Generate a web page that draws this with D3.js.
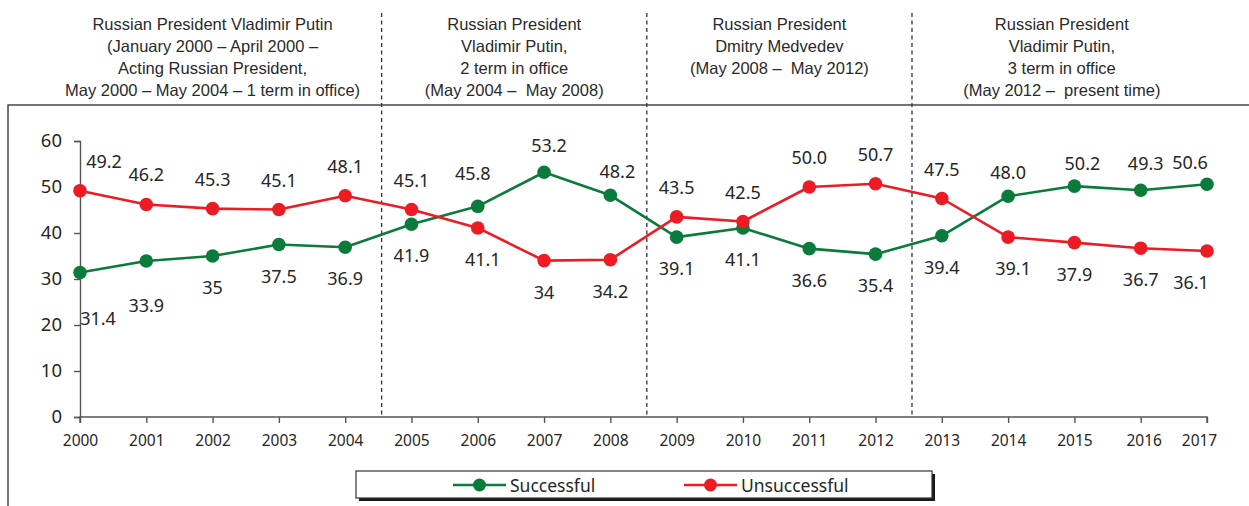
<!DOCTYPE html>
<html>
<head>
<meta charset="utf-8">
<script src="https://cdn.jsdelivr.net/npm/d3@7"></script>
<style>
  html, body { margin: 0; padding: 0; background: #fff; }
  svg { display: block; }
  .heads text { white-space: pre; }
</style>
</head>
<body>
<svg id="chart" width="1249" height="506"></svg>
<script>
// Survey results by year
const years = [2000, 2001, 2002, 2003, 2004, 2005, 2006, 2007, 2008,
               2009, 2010, 2011, 2012, 2013, 2014, 2015, 2016, 2017];
const successful   = [31.4, 33.9, 35, 37.5, 36.9, 41.9, 45.8, 53.2, 48.2,
                      39.1, 41.1, 36.6, 35.4, 39.4, 48.0, 50.2, 49.3, 50.6];
const unsuccessful = [49.2, 46.2, 45.3, 45.1, 48.1, 45.1, 41.1, 34, 34.2,
                      43.5, 42.5, 50.0, 50.7, 47.5, 39.1, 37.9, 36.7, 36.1];
// Value labels as printed
const successfulText   = ["31.4","33.9","35","37.5","36.9","41.9","45.8","53.2","48.2",
                          "39.1","41.1","36.6","35.4","39.4","48.0","50.2","49.3","50.6"];
const unsuccessfulText = ["49.2","46.2","45.3","45.1","48.1","45.1","41.1","34","34.2",
                          "43.5","42.5","50.0","50.7","47.5","39.1","37.9","36.7","36.1"];
const yTicks = [0, 10, 20, 30, 40, 50, 60];

// Presidential terms: boundaries on the year axis and heading lines
const termBounds = [1999.45, 2004.55, 2008.55, 2012.55, 2017.07];
const termTitles = [
  ["Russian President Vladimir Putin", "(January 2000 \u2013 April 2000 \u2013",
   "Acting Russian President,", "May 2000 \u2013 May 2004 \u2013 1 term in office)"],
  ["Russian President", "Vladimir Putin,", "2 term in office", "(May 2004 \u2013  May 2008)"],
  ["Russian President", "Dmitry Medvedev", "(May 2008 \u2013  May 2012)"],
  ["Russian President", "Vladimir Putin,", "3 term in office", "(May 2012 \u2013  present time)"]
];

const series = [
  { name: "Successful",   values: successful,   text: successfulText,   color: "#0a7b3b" },
  { name: "Unsuccessful", values: unsuccessful, text: unsuccessfulText, color: "#ed1c24" }
];

// Hand nudges for a few crowded value labels (pixels, by year index)
const labelNudge = {
  0:  { up: [24, 0], down: [18, 14] },
  1:  { down: [0, 13] },
  6:  { up: [-5, -3], down: [5, 0] },
  7:  { up: [5, 3] },
  8:  { up: [7, 6] },
  14: { up: [0, 6], down: [5, 0] },
  15: { up: [8, 7] },
  16: { up: [5, 3] },
  17: { up: [-17, 8], down: [-16, 0] }
};

const svg = d3.select("#chart");
const x = d3.scaleLinear().domain([2000, 2017]).range([80, 1207]);
const y = d3.scaleLinear().domain([0, 60]).range([417, 141]);

const ink = "#262626";

// Outer frame (open to the right and bottom)
svg.append("rect")
  .attr("x", 8).attr("y", 105)
  .attr("width", 1300).attr("height", 500)
  .attr("fill", "none").attr("stroke", "#3a3a3a").attr("stroke-width", 1.4);

// Term separators
svg.append("g").selectAll("line")
  .data(termBounds.slice(1, -1))
  .join("line")
  .attr("x1", d => x(d)).attr("x2", d => x(d))
  .attr("y1", 13).attr("y2", y(0))
  .attr("stroke", "#333").attr("stroke-width", 1.3)
  .attr("stroke-dasharray", "4,3.5");

// Term headings
const heads = svg.append("g").attr("class", "heads")
  .attr("font-family", "'Liberation Sans', Arial, sans-serif")
  .attr("font-size", 16.5).attr("fill", "#2a2a2a")
  .attr("text-anchor", "middle");
termTitles.forEach((lines, i) => {
  const cx = (x(termBounds[i]) + x(termBounds[i + 1])) / 2;
  heads.append("text")
    .selectAll("tspan")
    .data(lines)
    .join("tspan")
    .attr("x", cx)
    .attr("y", (d, j) => 30 + j * 22)
    .text(d => d);
});

// Y axis
const yAxis = svg.append("g")
  .attr("transform", `translate(${x(2000)},0)`)
  .call(d3.axisLeft(y).tickValues(yTicks).tickSize(6).tickPadding(12).tickFormat(d3.format("d")));
yAxis.select(".domain").attr("stroke", "#555").attr("stroke-width", 1.4);
yAxis.selectAll(".tick line").attr("stroke", "#555").attr("stroke-width", 1.4);
yAxis.selectAll(".tick text")
  .attr("font-family", "'Noto Sans', sans-serif").attr("font-size", 18.5).attr("fill", ink);

// X axis
const xAxis = svg.append("g")
  .attr("transform", `translate(0,${y(0)})`)
  .call(d3.axisBottom(x).tickValues(years).tickSize(6).tickPadding(12).tickFormat(d3.format("d")));
xAxis.select(".domain").attr("stroke", "#555").attr("stroke-width", 1.4)
  .attr("d", `M${x(2000)},6V0H${x(2017)}V6`);
xAxis.selectAll(".tick line").attr("stroke", "#555").attr("stroke-width", 1.4);
xAxis.selectAll(".tick text")
  .attr("font-family", "'Noto Sans', sans-serif").attr("font-size", 15.5).attr("fill", ink)
  .attr("dx", d => d === 2017 ? -8 : d === 2016 ? 3 : 0);

// Lines and markers
const line = d3.line().x((d, i) => x(years[i])).y(d => y(d));
series.forEach(s => {
  svg.append("path")
    .attr("d", line(s.values))
    .attr("fill", "none").attr("stroke", s.color).attr("stroke-width", 2.6)
    .attr("stroke-linejoin", "round");
  svg.append("g").selectAll("circle")
    .data(s.values)
    .join("circle")
    .attr("cx", (d, i) => x(years[i]))
    .attr("cy", d => y(d))
    .attr("r", 6.8)
    .attr("fill", s.color);
});

// Value labels: the higher series above its point, the lower one below
const labels = svg.append("g")
  .attr("font-family", "'Noto Sans', sans-serif").attr("font-size", 18)
  .attr("fill", ink).attr("text-anchor", "middle");
years.forEach((yr, i) => {
  series.forEach((s, k) => {
    const other = series[1 - k].values[i];
    const isUp = s.values[i] >= other;
    const nudge = (labelNudge[i] && labelNudge[i][isUp ? "up" : "down"]) || [0, 0];
    labels.append("text")
      .attr("x", x(yr) + nudge[0])
      .attr("y", y(s.values[i]) + (isUp ? -30 : 31) + nudge[1])
      .attr("dominant-baseline", "central")
      .text(s.text[i]);
  });
});

// Legend
const lg = svg.append("g");
lg.append("rect").attr("x", 359).attr("y", 474).attr("width", 576).attr("height", 27).attr("fill", "#1a1a1a");
lg.append("rect").attr("x", 356).attr("y", 471).attr("width", 576).attr("height", 27)
  .attr("fill", "#fff").attr("stroke", "#333").attr("stroke-width", 1.2);
const legendX = [453, 684];
series.forEach((s, k) => {
  const g = lg.append("g").attr("transform", `translate(${legendX[k]},485)`);
  g.append("line").attr("x1", 0).attr("x2", 53).attr("y1", 0).attr("y2", 0)
    .attr("stroke", s.color).attr("stroke-width", 2.6);
  g.append("circle").attr("cx", 26.5).attr("cy", 0).attr("r", 6.5).attr("fill", s.color);
  g.append("text").attr("x", 57).attr("y", 0).attr("dominant-baseline", "central")
    .attr("font-family", "'Noto Sans', sans-serif").attr("font-size", 17.5).attr("fill", ink)
    .text(s.name);
});
</script>
</body>
</html>
